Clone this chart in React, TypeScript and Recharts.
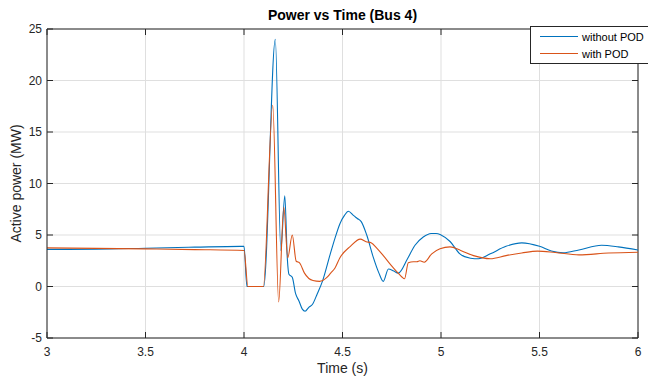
import { LineChart, Line, XAxis, YAxis, CartesianGrid, ReferenceLine, Legend } from 'recharts';

// time axis (s) and active power (MW)
const T_WITHOUT_POD = [
  3.0, 3.25, 3.5, 3.75, 3.98, 4.0, 4.015, 4.1, 4.159, 4.187, 4.207, 4.22, 4.228, 4.245, 4.262,
  4.279, 4.296, 4.31, 4.33, 4.347, 4.372, 4.398, 4.437, 4.462, 4.487, 4.51, 4.53, 4.555, 4.575,
  4.595, 4.623, 4.656, 4.685, 4.707, 4.733, 4.76, 4.783, 4.83, 4.868, 4.91, 4.95, 4.975, 5.0,
  5.046, 5.096, 5.15, 5.19, 5.25, 5.33, 5.41, 5.5, 5.56, 5.62, 5.7, 5.815, 5.9, 6.0,
];
const P_WITHOUT_POD = [
  3.6, 3.62, 3.72, 3.82, 3.9, 3.9, 0, 0, 24.0, 3.5, 8.8, 2.7, 1.2, 0.9, -0.7,
  -1.4, -2.2, -2.4, -2.0, -1.75, -0.7, 0.5, 3.1, 4.7, 6.1, 6.9, 7.3, 6.9, 6.6,
  6.3, 5.0, 2.85, 1.3, 0.5, 1.7, 1.5, 1.3, 2.7, 4.0, 4.8, 5.15, 5.15, 5.0,
  4.37, 3.17, 2.75, 2.7, 3.17, 3.9, 4.24, 3.9, 3.45, 3.27, 3.55, 4.0, 3.85, 3.55,
];

const T_WITH_POD = [
  3.0, 3.25, 3.5, 3.75, 4.0, 4.02, 4.098, 4.146, 4.176, 4.202, 4.222, 4.245, 4.265, 4.282,
  4.307, 4.35, 4.384, 4.418, 4.44, 4.462, 4.487, 4.54, 4.59, 4.62, 4.645, 4.675, 4.707,
  4.745, 4.775, 4.8, 4.815, 4.834, 4.86, 4.877, 4.893, 4.915, 4.953, 4.995, 5.046, 5.1,
  5.165, 5.25, 5.33, 5.41, 5.49, 5.58, 5.7, 5.85, 6.0,
];
const P_WITH_POD = [
  3.75, 3.7, 3.65, 3.58, 3.5, 0, 0, 17.6, -1.5, 7.7, 2.8, 5.0, 2.45, 2.3,
  1.3, 0.58, 0.5, 0.83, 1.3, 1.8, 2.8, 3.9, 4.6, 4.35, 4.25, 3.7, 3.0,
  2.1, 1.45, 0.95, 0.75, 2.3, 2.4, 2.4, 2.5, 2.36, 3.17, 3.66, 3.85, 3.5,
  3.0, 2.7, 3.0, 3.25, 3.43, 3.3, 3.07, 3.25, 3.33,
];

const SERIES_NAMES = ['without POD', 'with POD'];
const X_TICKS = [3, 3.5, 4, 4.5, 5, 5.5, 6];
const Y_TICKS = [-5, 0, 5, 10, 15, 20, 25];

const withoutPod = T_WITHOUT_POD.map((t, i) => ({ t, p: P_WITHOUT_POD[i] }));
const withPod = T_WITH_POD.map((t, i) => ({ t, p: P_WITH_POD[i] }));

// ── layout ─────────────────────────────────────────────
const W = 648;
const H = 380;
const MARGIN = { top: 29, right: 10, bottom: 0, left: 0 };
const Y_AXIS_W = 47;
const X_AXIS_H = 42;
const PLOT_TOP = MARGIN.top;
const PLOT_RIGHT = W - MARGIN.right;
const TICK_LEN = 6;

const FONT = '"Liberation Sans", Arial, Helvetica, sans-serif';
const AXIS = '#262626';
const BLUE = '#0072BD';
const ORANGE = '#D95319';

function XTick(props: { x?: number; y?: number; payload?: { value: number } }) {
  const { x = 0, y = 0, payload } = props;
  return (
    <g>
      <line x1={x} y1={y} x2={x} y2={y - TICK_LEN} stroke={AXIS} />
      <line x1={x} y1={PLOT_TOP} x2={x} y2={PLOT_TOP + TICK_LEN} stroke={AXIS} />
      <text x={x} y={y + 18} textAnchor="middle" fontSize={12} fill={AXIS} fontFamily={FONT}>
        {payload?.value}
      </text>
    </g>
  );
}

function YTick(props: { x?: number; y?: number; payload?: { value: number } }) {
  const { x = 0, y = 0, payload } = props;
  return (
    <g>
      <line x1={x} y1={y} x2={x + TICK_LEN} y2={y} stroke={AXIS} />
      <line x1={PLOT_RIGHT} y1={y} x2={PLOT_RIGHT - TICK_LEN} y2={y} stroke={AXIS} />
      <text x={x - 5} y={y + 4} textAnchor="end" fontSize={12} fill={AXIS} fontFamily={FONT}>
        {payload?.value}
      </text>
    </g>
  );
}

// legend keeps the plotting order (recharts sorts by name otherwise)
function LegendBox(props: { payload?: { value: string; color: string }[] }) {
  const items = [...(props.payload ?? [])].sort(
    (a, b) => SERIES_NAMES.indexOf(a.value) - SERIES_NAMES.indexOf(b.value),
  );
  return (
    <div
      style={{
        border: `1px solid ${AXIS}`,
        background: '#fff',
        padding: '1px 10px 1px 9px',
        fontFamily: FONT,
        fontSize: 11,
        color: '#000',
        whiteSpace: 'nowrap',
      }}
    >
      {items.map((it) => (
        <div key={it.value} style={{ display: 'flex', alignItems: 'center', height: 17 }}>
          <span style={{ width: 38, height: 0, borderTop: `1px solid ${it.color}`, marginRight: 4 }} />
          {it.value}
        </div>
      ))}
    </div>
  );
}

export default function App() {
  return (
    <div
      style={{
        position: 'absolute',
        left: 0,
        top: 0,
        width: W,
        height: H,
        overflow: 'hidden',
        background: '#fff',
      }}
    >
      <div
        style={{
          position: 'absolute',
          left: Y_AXIS_W,
          top: 8,
          width: PLOT_RIGHT - Y_AXIS_W,
          textAlign: 'center',
          fontFamily: FONT,
          fontWeight: 'bold',
          fontSize: 14,
          lineHeight: '14px',
          color: '#000',
          zIndex: 2,
        }}
      >
        Power vs Time (Bus 4)
      </div>
      <LineChart width={W} height={H} margin={MARGIN}>
        <CartesianGrid stroke="#dfdfdf" strokeWidth={1} />
        <XAxis
          type="number"
          dataKey="t"
          domain={[3, 6]}
          ticks={X_TICKS}
          allowDataOverflow
          height={X_AXIS_H}
          tickSize={0}
          tickMargin={0}
          tickLine={false}
          tick={<XTick />}
          stroke={AXIS}
          label={{
            value: 'Time (s)',
            content: (p: any) => (
              <text
                x={p.viewBox.x + p.viewBox.width / 2}
                y={p.viewBox.y + 35}
                textAnchor="middle"
                fontSize={14}
                fill={AXIS}
                fontFamily={FONT}
              >
                Time (s)
              </text>
            ),
          }}
        />
        <YAxis
          type="number"
          domain={[-5, 25]}
          ticks={Y_TICKS}
          allowDataOverflow
          width={Y_AXIS_W}
          tickSize={0}
          tickMargin={0}
          tickLine={false}
          tick={<YTick />}
          stroke={AXIS}
          label={{
            value: 'Active power (MW)',
            content: (p: any) => {
              const cy = p.viewBox.y + p.viewBox.height / 2;
              return (
                <text
                  x={21}
                  y={cy}
                  transform={`rotate(-90 21 ${cy})`}
                  textAnchor="middle"
                  fontSize={14}
                  fill={AXIS}
                  fontFamily={FONT}
                >
                  Active power (MW)
                </text>
              );
            },
          }}
        />
        <ReferenceLine y={25} stroke={AXIS} />
        <ReferenceLine x={6} stroke={AXIS} />
        <Line
          data={withoutPod}
          dataKey="p"
          name="without POD"
          type="monotone"
          stroke={BLUE}
          strokeWidth={1.1}
          dot={false}
          isAnimationActive={false}
        />
        <Line
          data={withPod}
          dataKey="p"
          name="with POD"
          type="monotone"
          stroke={ORANGE}
          strokeWidth={1.1}
          dot={false}
          isAnimationActive={false}
        />
        <Legend
          layout="vertical"
          align="center"
          verticalAlign="middle"
          wrapperStyle={{ left: 530, top: 26, width: 'auto' }}
          content={(p: any) => <LegendBox payload={p.payload} />}
        />
      </LineChart>
    </div>
  );
}
